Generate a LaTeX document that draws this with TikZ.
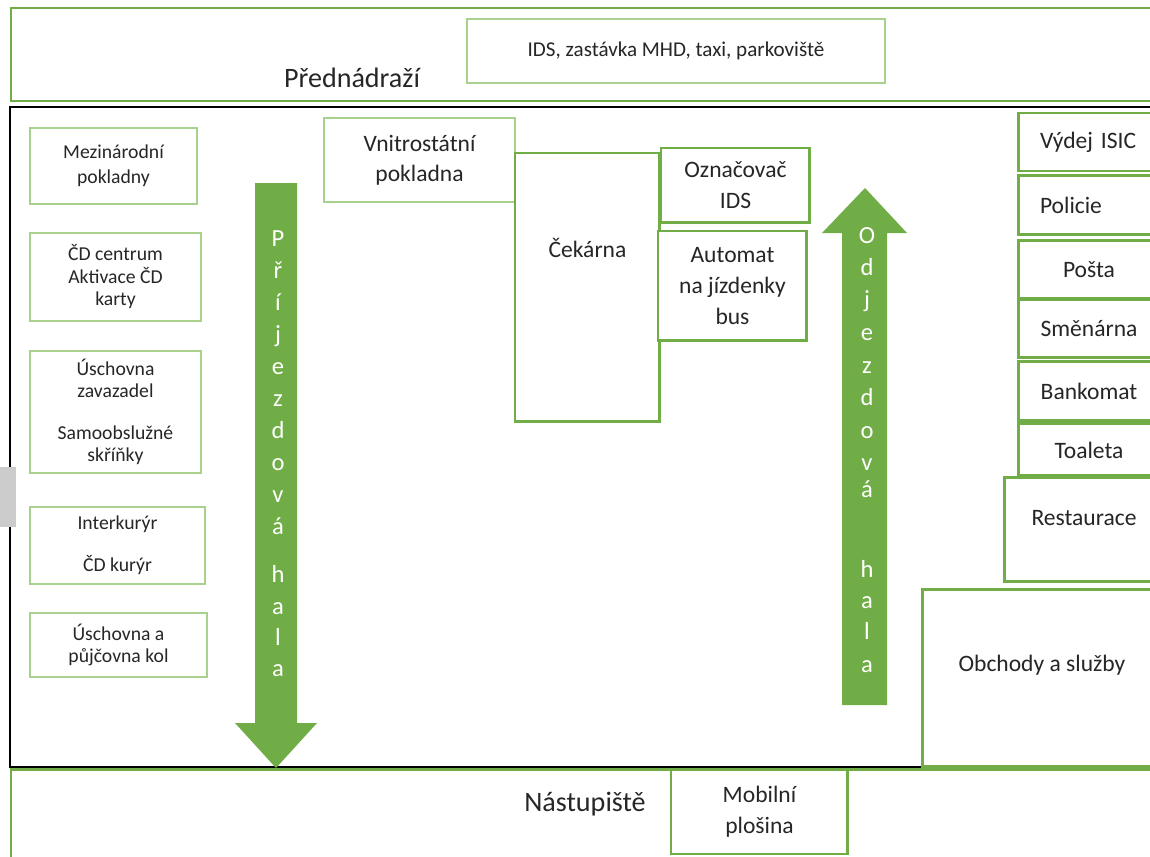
\documentclass[tikz,border=0pt]{standalone}
\usepackage{fontspec}
\setmainfont{Carlito}
\usetikzlibrary{positioning, calc}
\definecolor{officegreen}{RGB}{112, 173, 71}
\definecolor{palegreen}{RGB}{169, 209, 142}
\definecolor{ink}{RGB}{38, 38, 38}

\begin{document}
\begin{tikzpicture}[
    x=0.02cm, y=-0.02cm,
    zone/.style={draw=officegreen, line width=1.7pt},
    hall/.style={draw=black, line width=1.4pt},
    zonetitle/.style={text=ink, font=\fontsize{16}{19}\selectfont},
    thinbox/.style={draw=palegreen, line width=0.9pt, fill=white, outer sep=0pt, align=center, text=ink, font=\fontsize{11.2}{12.8}\selectfont},
    thickbox/.style={draw=officegreen, line width=1.7pt, fill=white, outer sep=0pt, align=center, text=ink, font=\fontsize{13.4}{17.5}\selectfont},
    boxtext/.style={text=ink, font=\fontsize{13.4}{17.5}\selectfont},
    letter/.style={text=white, anchor=base, font=\fontsize{14}{14}\selectfont}
]
    \useasboundingbox (0,0) rectangle (1150,856);
    \clip (0,0) rectangle (1150,856);

    % zones
    \draw[zone] (11,8) rectangle (1200,101);
    \draw[hall] (10,107) rectangle (1200,767);
    \draw[zone] (11,769) rectangle (1200,900);
    \fill[gray!40] (0,467) rectangle (16,527);

    \node[zonetitle] (prednadrazi) at (352,78) {Přednádraží};
    \node[thinbox, minimum width=8.36cm, minimum height=1.28cm, font=\fontsize{12}{14}\selectfont] (ids) at (676,51) {IDS, zastávka MHD, taxi, parkoviště};

    % left column
    \node[thinbox, minimum width=3.34cm, minimum height=1.52cm, font=\fontsize{11.2}{14.2}\selectfont, anchor=north west] (mezi) at (30,128) {Mezinárodní\\pokladny};
    \node[thinbox, minimum width=3.42cm, minimum height=1.76cm, below=0.58cm of mezi.south west, anchor=north west] (cdcentrum) {ČD centrum\\Aktivace ČD\\karty};
    \node[thinbox, minimum width=3.42cm, minimum height=2.44cm, below=0.6cm of cdcentrum.south west, anchor=north west] (uschovna) {Úschovna\\zavazadel\\[11pt]Samoobslužné\\skříňky};
    \node[thinbox, minimum width=3.5cm, minimum height=1.54cm, below=0.68cm of uschovna.south west, anchor=north west] (kuryr) {Interkurýr\\[11pt]ČD kurýr};
    \node[thinbox, minimum width=3.54cm, minimum height=1.28cm, below=0.58cm of kuryr.south west, anchor=north west] (kola) {Úschovna a\\půjčovna kol};

    % middle
    \node[thinbox, minimum width=3.82cm, minimum height=1.68cm, font=\fontsize{13.4}{17}\selectfont, anchor=north west] (domaci) at (324,118) {Vnitrostátní\\pokladna};
    \node[thickbox, minimum width=2.9cm, minimum height=5.38cm, anchor=north west] (cekarna) at (515,153) {};
    \node[boxtext] (cekarnatxt) at ($(cekarna.north)+(0,95)$) {Čekárna};
    \node[thickbox, minimum width=2.98cm, minimum height=1.5cm, anchor=north west] (oznacovac) at (661,148) {Označovač\\IDS};
    \node[thickbox, minimum width=2.98cm, minimum height=2.2cm, anchor=north west] (automat) at (658,231) {Automat\\na jízdenky\\bus};

    % right column (runs off the right edge)
    \node[thickbox, minimum height=1.16cm, text width=1.96cm, inner xsep=0.44cm, align=left, anchor=north west] (isic) at (1018,113) {Výdej ISIC};
    \node[thickbox, minimum height=1.18cm, text width=1.96cm, inner xsep=0.44cm, align=left, below=0.1cm of isic.south west, anchor=north west] (policie) {Policie};
    \node[thickbox, minimum width=2.84cm, minimum height=1.16cm, below=0.12cm of policie.south west, anchor=north west] (posta) {Pošta};
    \node[thickbox, minimum width=2.84cm, minimum height=1.16cm, below=0.02cm of posta.south west, anchor=north west] (smenarna) {Směnárna};
    \node[thickbox, minimum width=2.84cm, minimum height=1.18cm, below=0.08cm of smenarna.south west, anchor=north west] (bankomat) {Bankomat};
    \node[thickbox, minimum width=2.84cm, minimum height=1.04cm, below=0.06cm of bankomat.south west, anchor=north west] (toaleta) {Toaleta};
    \node[thickbox, minimum width=3.12cm, minimum height=2.1cm, anchor=north west] (restaurace) at (1004,477) {};
    \node[boxtext] (restauracetxt) at ($(restaurace.north)+(2,41)$) {Restaurace};
    \node[thickbox, minimum width=4.76cm, minimum height=3.56cm, anchor=north west] (obchody) at (922,589) {};
    \node[boxtext] (obchodytxt) at ($(obchody.north)+(1,76)$) {Obchody a služby};

    % platform
    \node[zonetitle] (nastupiste) at (585,804) {Nástupiště};
    \node[thickbox, minimum width=3.54cm, minimum height=1.7cm, anchor=north west] (plosina) at (671,769) {Mobilní\\plošina};

    % halls
    \fill[officegreen] (255,183) -- (297,183) -- (297,723) -- (317,723) -- (276,768) -- (235,723) -- (255,723) -- cycle;
    \fill[officegreen] (842,705) -- (887,705) -- (887,233) -- (907,233) -- (865,188) -- (822,233) -- (842,233) -- cycle;

    \foreach \ch/\yy in {P/246, ř/278, í/310, j/342, e/374, z/406, d/438, o/470, v/502, á/534, h/582, a/614, l/645, a/676}
        \node[letter] (prijezd\yy) at (278,\yy) {\ch};
    \foreach \ch/\yy in {O/243, d/275, j/307, e/340, z/373, d/405, o/438, v/470, á/497, h/577, a/608, l/639, a/672}
        \node[letter] (odjezd\yy) at (867,\yy) {\ch};
\end{tikzpicture}
\end{document}
